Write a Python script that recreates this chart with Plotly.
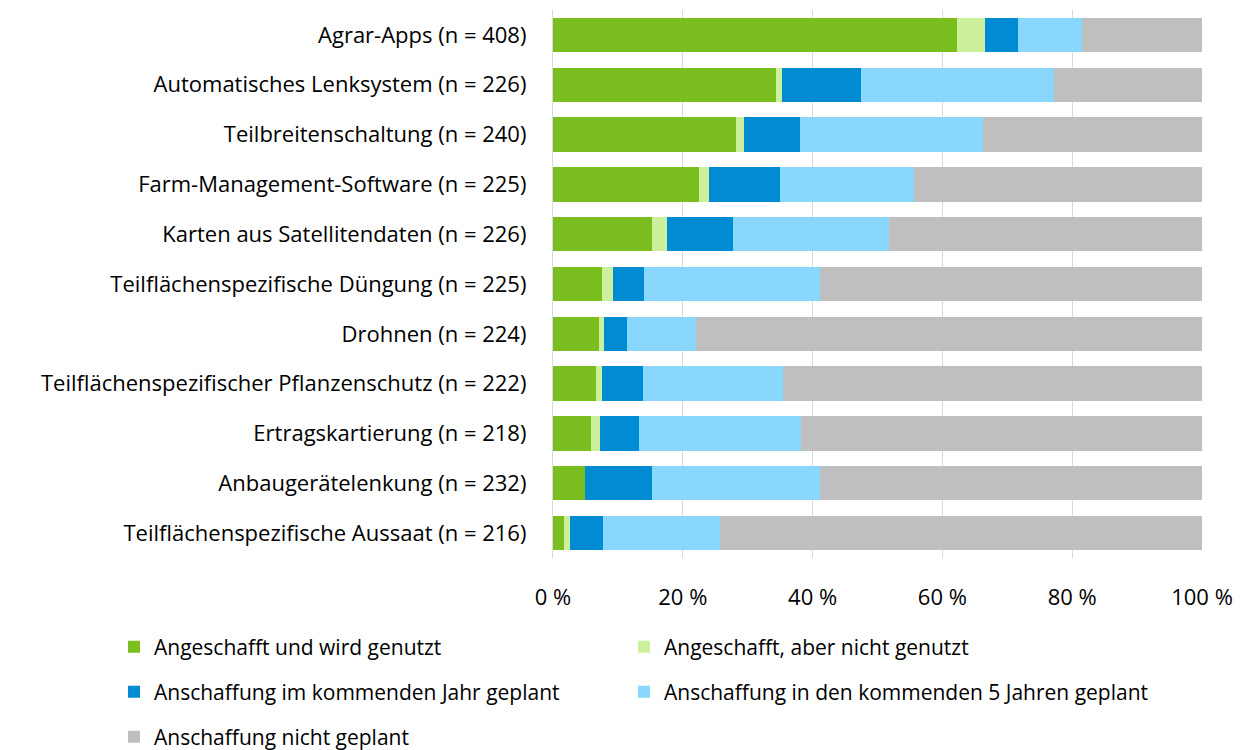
import plotly.graph_objects as go

categories = [
    "Agrar-Apps (n = 408)",
    "Automatisches Lenksystem (n = 226)",
    "Teilbreitenschaltung (n = 240)",
    "Farm-Management-Software (n = 225)",
    "Karten aus Satellitendaten (n = 226)",
    "Teilflächenspezifische Düngung (n = 225)",
    "Drohnen (n = 224)",
    "Teilflächenspezifischer Pflanzenschutz (n = 222)",
    "Ertragskartierung (n = 218)",
    "Anbaugerätelenkung (n = 232)",
    "Teilflächenspezifische Aussaat (n = 216)",
]

series_names = [
    "Angeschafft und wird genutzt",
    "Angeschafft, aber nicht genutzt",
    "Anschaffung im kommenden Jahr geplant",
    "Anschaffung in den kommenden 5 Jahren geplant",
    "Anschaffung nicht geplant",
]

genutzt =          [62.3, 34.3, 28.2, 22.5, 15.3, 7.5, 7.1, 6.6, 5.9, 5.0, 1.7]
nicht_genutzt =    [4.2, 1.0, 1.3, 1.5, 2.3, 1.7, 0.8, 0.9, 1.4, 0.0, 0.9]
kommendes_jahr =   [5.1, 12.1, 8.5, 11.0, 10.2, 4.8, 3.5, 6.4, 6.0, 10.3, 5.1]
fuenf_jahre =      [9.9, 29.8, 28.3, 20.6, 23.9, 27.2, 10.6, 21.6, 24.9, 25.8, 18.1]
nicht_geplant =    [18.5, 22.8, 33.7, 44.4, 48.3, 58.8, 78.0, 64.5, 61.8, 58.9, 74.2]

x_tickvals = [0, 20, 40, 60, 80, 100]
x_ticktext = ["0 %", "20 %", "40 %", "60 %", "80 %", "100 %"]

colors = ["#7ABE20", "#CCF09C", "#008BD2", "#89D7FD", "#BFBFBF"]
legend_ids = ["legend", "legend2", "legend3", "legend4", "legend5"]

FONT = "Open Sans"
OFF = 8  # page body margin
W, H = 1244 - OFF, 750 - OFF
ML, MR, MT, MB = 553 - OFF, 42, 10 - OFF, 192
PW = W - ML - MR
PH = H - MT - MB

fig = go.Figure()
for name, vals, col, lg in zip(series_names,
                               [genutzt, nicht_genutzt, kommendes_jahr, fuenf_jahre, nicht_geplant],
                               colors, legend_ids):
    fig.add_trace(go.Bar(
        y=categories, x=vals, name=name, orientation="h",
        marker=dict(color=col, line=dict(width=0)),
        legend=lg, showlegend=True,
        hovertemplate="%{y}<br>" + name + ": %{x} %<extra></extra>",
    ))

def px_x(p):
    return (p - OFF - ML) / PW

def px_y(p):
    return (H - MB - (p - OFF)) / PH

leg_common = dict(
    orientation="h", xanchor="left", yanchor="middle",
    font=dict(family=FONT, size=21, color="#000000"),
    bgcolor="rgba(0,0,0,0)", itemwidth=30,
)

# legend positions in page pixels (swatch column, row centre)
col_x = [114, 624]
row_y = [647, 692, 737]
legend_pos = [(col_x[0], row_y[0]), (col_x[1], row_y[0]),
              (col_x[0], row_y[1]), (col_x[1], row_y[1]),
              (col_x[0], row_y[2])]

legend_layout = {}
for lg, (lx, ly) in zip(legend_ids, legend_pos):
    legend_layout[lg] = dict(x=px_x(lx), y=px_y(ly), **leg_common)

fig.update_layout(
    width=W, height=H,
    showlegend=True,
    barmode="stack", bargap=0.31,
    plot_bgcolor="white", paper_bgcolor="white",
    margin=dict(l=ML, r=MR, t=MT, b=MB, autoexpand=False),
    font=dict(family=FONT, size=21, color="#000000"),
    xaxis=dict(
        range=[0, 100], tickvals=x_tickvals, ticktext=x_ticktext,
        showgrid=True, gridcolor="#D9D9D9", gridwidth=1.3,
        zeroline=False, showline=False, ticks="",
        ticklabelstandoff=24,
        tickfont=dict(family=FONT, size=22, color="#000000"),
    ),
    yaxis=dict(
        autorange="reversed", showgrid=False, ticks="",
        showline=True, linecolor="#D9D9D9", linewidth=1.3,
        ticklabelstandoff=21,
        tickfont=dict(family=FONT, size=22, color="#000000"),
    ),
    **legend_layout,
)

fig.write_html("out.html")
